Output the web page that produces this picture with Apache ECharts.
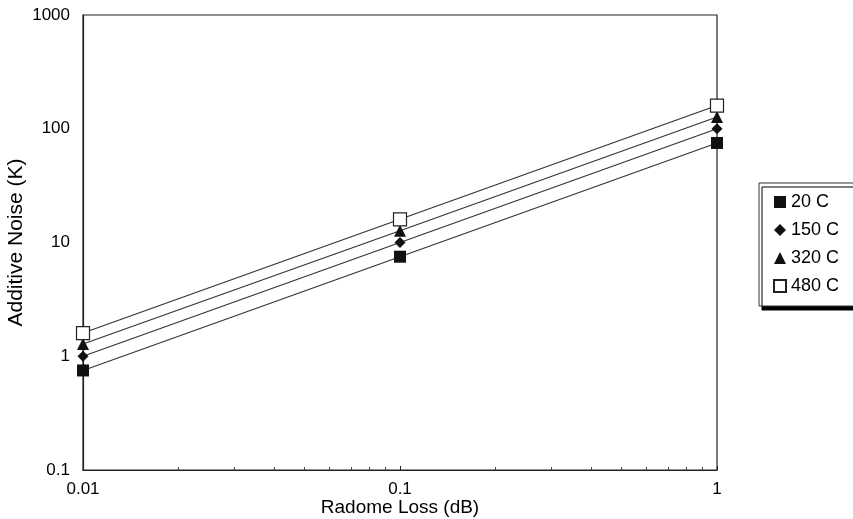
<!DOCTYPE html>
<html><head><meta charset="utf-8">
<script src="https://cdn.jsdelivr.net/npm/echarts@6/dist/echarts.min.js"></script>
<style>html,body{margin:0;padding:0;background:#fff}#c{width:853px;height:519px}</style>
</head><body><div id="c"></div>
<script>
const radomeLoss = [0.01, 0.1, 1];
const seriesNames = ['20 C', '150 C', '320 C', '480 C'];
const noise20 = [0.75, 7.5, 75];
const noise150 = [1.0, 10, 100];
const noise320 = [1.28, 12.7, 127];
const noise480 = [1.6, 16, 160];
const yTicks = [0.1, 1, 10, 100, 1000];

const values = [noise20, noise150, noise320, noise480];
const symbols = ['rect', 'diamond', 'triangle', 'rect'];
const sizes = [12, 11, 12, 13];
const font = 'Liberation Sans, Arial, sans-serif';

const chart = echarts.init(document.getElementById('c'));
chart.setOption({
  animation: false,
  backgroundColor: '#fff',
  grid: {left: 83, top: 15, right: 136, bottom: 49, show: true, borderColor: '#222', borderWidth: 1.2,
         containLabel: false, outerBoundsMode: 'none'},
  xAxis: {
    type: 'log', logBase: 10, min: 0.01, max: 1,
    name: 'Radome Loss (dB)', nameLocation: 'middle', nameGap: 28, nameMoveOverlap: false,
    nameTextStyle: {fontFamily: font, fontSize: 19, color: '#000'},
    axisLine: {lineStyle: {color: '#222', width: 1.2}},
    axisTick: {show: true, inside: true, length: 4, lineStyle: {color: '#222'}},
    minorTick: {show: true, splitNumber: 9, length: 3, lineStyle: {color: '#444'}},
    splitLine: {show: false},
    axisLabel: {fontFamily: font, fontSize: 17, color: '#000', margin: 11, formatter: v => String(+v.toPrecision(3))}
  },
  yAxis: {
    type: 'log', logBase: 10, min: 0.1, max: 1000,
    name: 'Additive Noise (K)', nameLocation: 'middle', nameGap: 56, nameMoveOverlap: false,
    nameTextStyle: {fontFamily: font, fontSize: 21, color: '#000'},
    axisLine: {lineStyle: {color: '#222', width: 1.2}},
    axisTick: {show: false},
    splitLine: {show: false},
    axisLabel: {fontFamily: font, fontSize: 17, color: '#000', margin: 13,
      formatter: v => { const t = yTicks.find(k => Math.abs(k - v) / k < 1e-6); return t === undefined ? '' : String(t); }}
  },
  legend: {
    orient: 'vertical', left: 759, top: 183, width: 140,
    backgroundColor: '#fff', borderColor: '#333', borderWidth: 1,
    padding: [10, 60, 11, 14], itemGap: 10, itemWidth: 12, itemHeight: 12,
    shadowColor: '#000', shadowOffsetX: 3, shadowOffsetY: 4, shadowBlur: 0,
    textStyle: {fontFamily: font, fontSize: 18, color: '#000'},
    data: seriesNames.map((n, i) => ({name: n, icon: symbols[i]}))
  },
  series: seriesNames.map((n, i) => ({
    name: n, type: 'line',
    data: radomeLoss.map((x, j) => [x, values[i][j]]),
    symbol: symbols[i], symbolSize: sizes[i],
    lineStyle: {color: '#333', width: 1.2},
    itemStyle: i === 3 ? {color: '#fff', borderColor: '#222', borderWidth: 1.2} : {color: '#111'},
    z: 3
  }))
});
</script></body></html>
